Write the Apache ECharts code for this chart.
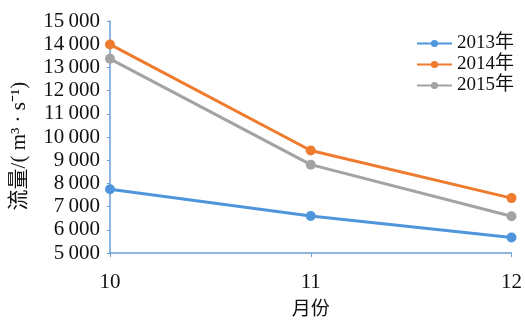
<!DOCTYPE html>
<html>
<head>
<meta charset="utf-8">
<script src="https://cdn.jsdelivr.net/npm/echarts@6/dist/echarts.min.js"></script>
<style>
html,body{margin:0;padding:0;background:#fff;}
#chart{width:525px;height:322px;}
</style>
</head>
<body>
<div id="chart"></div>
<script>
// Monthly discharge (m³/s) for October–December of three years
const months = ['10', '11', '12'];
const flow2013 = [7750, 6600, 5670];
const flow2014 = [13990, 9420, 7370];
const flow2015 = [13370, 8810, 6590];
const yTicks = { min: 5000, max: 15000, interval: 1000 };

const serif = '"Liberation Serif", "Times New Roman", serif';
const cjk = '"Noto Sans CJK SC"';

function fmt(v) {
  const s = String(v);
  return s.length > 3 ? s.slice(0, s.length - 3) + '\u2009' + s.slice(-3) : s;
}

function line(name, data, color) {
  return {
    name, type: 'line', data,
    symbol: 'circle', symbolSize: 10,
    lineStyle: { color, width: 3 },
    itemStyle: { color },
    z: 3
  };
}

const chart = echarts.init(document.getElementById('chart'), null, { renderer: 'canvas' });
chart.setOption({
  animation: false,
  backgroundColor: '#fff',
  grid: { left: 110, right: 9, top: 21, bottom: 62 },
  legend: {
    left: 411, top: 29, orient: 'vertical', itemGap: 2,
    itemWidth: 35, itemHeight: 9,
    textStyle: { fontFamily: '"Liberation Serif", ' + cjk, fontSize: 19, color: '#111' },
    data: ['2013年', '2014年', '2015年']
  },
  xAxis: {
    type: 'category', data: months, boundaryGap: false,
    name: '月份', nameLocation: 'middle', nameGap: 40,
    nameTextStyle: { fontFamily: cjk, fontSize: 19, color: '#111' },
    axisLine: { lineStyle: { color: '#6a9fd8', width: 1.5 } },
    axisTick: { show: true, length: 4, lineStyle: { color: '#6a9fd8' } },
    axisLabel: { fontFamily: serif, fontSize: 21, color: '#111', margin: 19 }
  },
  yAxis: {
    type: 'value', min: yTicks.min, max: yTicks.max, interval: yTicks.interval,
    name: '流量/( m³ · s⁻¹)', nameLocation: 'middle', nameGap: 80,
    nameTextStyle: { fontFamily: '"Liberation Serif", ' + cjk, fontSize: 21, color: '#111', padding: [0, 18, 0, 0] },
    axisLine: { show: true, lineStyle: { color: '#6a9fd8', width: 1.5 } },
    axisTick: { show: true, length: 3, lineStyle: { color: '#6a9fd8' } },
    splitLine: { show: false },
    axisLabel: { fontFamily: serif, fontSize: 21, color: '#111', margin: 10, formatter: fmt }
  },
  series: [
    line('2013年', flow2013, '#4f95dc'),
    line('2014年', flow2014, '#ee7b2e'),
    line('2015年', flow2015, '#a3a3a3')
  ]
});
</script>
</body>
</html>
